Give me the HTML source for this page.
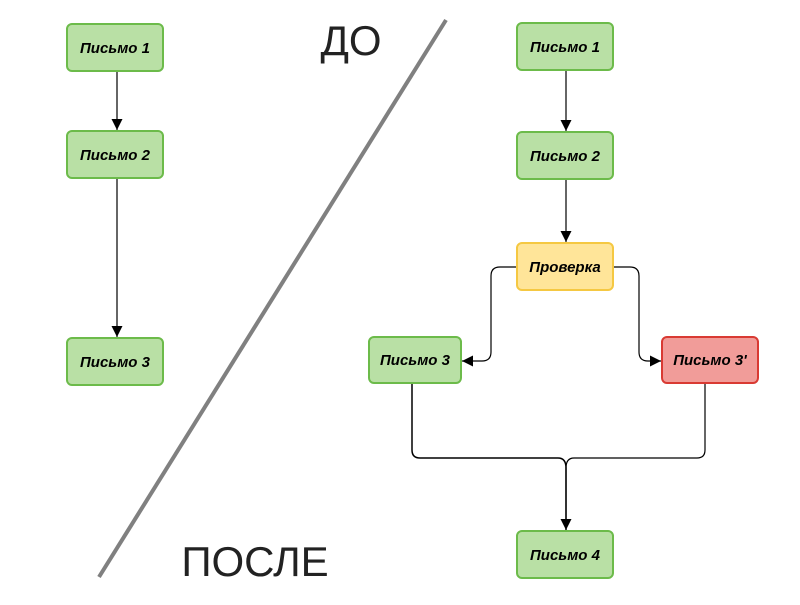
<!DOCTYPE html>
<html><head><meta charset="utf-8"><style>
body{margin:0;background:#fff}
svg text{font-family:"Liberation Sans",sans-serif}
</style></head><body>
<svg width="800" height="600" xmlns="http://www.w3.org/2000/svg">
<defs><marker id="a" markerWidth="12" markerHeight="12" refX="11" refY="6" orient="auto" markerUnits="userSpaceOnUse"><path d="M0,0.5 L11,6 L0,11.5 z" fill="#000"/></marker></defs>
<line x1="446" y1="20" x2="99" y2="577" stroke="#808080" stroke-width="4"/>
<text x="351" y="55" font-size="42" text-anchor="middle" fill="#222">ДО</text>
<text x="255" y="576" font-size="42" text-anchor="middle" fill="#222">ПОСЛЕ</text>
<g stroke="#000" stroke-width="1.2" fill="none">
<line x1="117" y1="71" x2="117" y2="130" marker-end="url(#a)"/>
<line x1="117" y1="178" x2="117" y2="337" marker-end="url(#a)"/>
<line x1="566" y1="70" x2="566" y2="131" marker-end="url(#a)"/>
<line x1="566" y1="179" x2="566" y2="242" marker-end="url(#a)"/>
<path d="M517,267 H500 Q491,267 491,276 V352 Q491,361 482,361 H462" marker-end="url(#a)"/>
<path d="M613,267 H630 Q639,267 639,276 V352 Q639,361 648,361 H661" marker-end="url(#a)"/>
<path d="M412,383 V450 Q412,458 420,458 H558 Q566,458 566,468 V530" stroke-width="1.5" marker-end="url(#a)"/>
<path d="M705,383 V450 Q705,458 697,458 H574 Q566,458 566,468 V525" stroke-width="1.2"/>
</g>
<g stroke-width="2" font-size="15" font-weight="bold" font-style="italic" text-anchor="middle">
<rect x="67" y="24" width="96" height="47" rx="5" fill="#b9e0a5" style="stroke:#6cbb4a"/>
<text x="115" y="53">Письмо 1</text>
<rect x="67" y="131" width="96" height="47" rx="5" fill="#b9e0a5" style="stroke:#6cbb4a"/>
<text x="115" y="160">Письмо 2</text>
<rect x="67" y="338" width="96" height="47" rx="5" fill="#b9e0a5" style="stroke:#6cbb4a"/>
<text x="115" y="367">Письмо 3</text>
<rect x="517" y="23" width="96" height="47" rx="5" fill="#b9e0a5" style="stroke:#6cbb4a"/>
<text x="565" y="52">Письмо 1</text>
<rect x="517" y="132" width="96" height="47" rx="5" fill="#b9e0a5" style="stroke:#6cbb4a"/>
<text x="565" y="161">Письмо 2</text>
<rect x="517" y="243" width="96" height="47" rx="5" fill="#ffe599" style="stroke:#f5c842"/>
<text x="565" y="272">Проверка</text>
<rect x="369" y="337" width="92" height="46" rx="5" fill="#b9e0a5" style="stroke:#6cbb4a"/>
<text x="415" y="365">Письмо 3</text>
<rect x="662" y="337" width="96" height="46" rx="5" fill="#f19c99" style="stroke:#d93a33"/>
<text x="710" y="365">Письмо 3'</text>
<rect x="517" y="531" width="96" height="47" rx="5" fill="#b9e0a5" style="stroke:#6cbb4a"/>
<text x="565" y="560">Письмо 4</text>
</g>
</svg>
</body></html>
